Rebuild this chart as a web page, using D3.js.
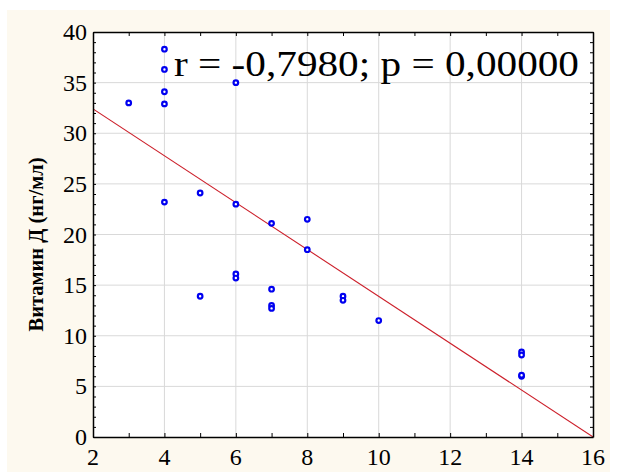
<!DOCTYPE html>
<html><head><meta charset="utf-8">
<script src="https://cdn.jsdelivr.net/npm/d3@7/dist/d3.min.js"></script>
<style>body{margin:0;background:#fff;}svg{display:block;}</style>
</head><body>
<svg id="c" width="621" height="472"></svg>
<script>
const xValues = [3,4,4,4,4,4,5,5,6,6,6,6,7,7,7,7,8,8,9,9,10,14,14,14,14];
const yValues = [33.0,38.3,36.3,34.1,32.9,23.2,24.1,13.9,35.0,23.0,16.1,15.7,21.1,14.6,13.0,12.7,21.5,18.5,13.9,13.5,11.5,8.4,8.1,6.0,6.1];
const xTicks = [2,4,6,8,10,12,14,16];
const yTicks = [0,5,10,15,20,25,30,35,40];
const fitIntercept = 37.03;
const fitSlope = -2.314;
const yTitle = "Витамин Д (нг/мл)";
const statText = "r = -0,7980; p = 0,00000";

const svg = d3.select("#c");
svg.append("rect").attr("x",7).attr("y",10).attr("width",603).attr("height",462).attr("fill","#fdf9ef");
const L=93,R=593,T=32,B=437;
const x = d3.scaleLinear().domain([2,16]).range([L,R]);
const y = d3.scaleLinear().domain([0,40]).range([B,T]);
svg.append("rect").attr("x",L).attr("y",T).attr("width",R-L).attr("height",B-T).attr("fill","#fff");
// grid
svg.append("g").selectAll("line").data(xTicks.slice(1,-1)).join("line")
  .attr("x1",d=>x(d)).attr("x2",d=>x(d)).attr("y1",T).attr("y2",B).attr("stroke","#d9d9d9").attr("stroke-width",1);
svg.append("g").selectAll("line").data(yTicks.slice(1,-1)).join("line")
  .attr("y1",d=>y(d)).attr("y2",d=>y(d)).attr("x1",L).attr("x2",R).attr("stroke","#d9d9d9").attr("stroke-width",1);
svg.append("clipPath").attr("id","pc").append("rect").attr("x",L).attr("y",T).attr("width",R-L).attr("height",B-T);
// fit line
svg.append("line").attr("clip-path","url(#pc)")
  .attr("x1",x(2)).attr("y1",y(fitIntercept+fitSlope*2))
  .attr("x2",x(16)).attr("y2",y(fitIntercept+fitSlope*16))
  .attr("stroke","#cc1f2a").attr("stroke-width",1.1);
// points
svg.append("g").selectAll("circle").data(xValues.map((v,i)=>[v,yValues[i]])).join("circle")
  .attr("cx",d=>x(d[0])).attr("cy",d=>y(d[1])).attr("r",2.3)
  .attr("fill","#fff").attr("stroke","#0000f0").attr("stroke-width",2.2);
// axes
const minorX = d3.range(2,16.01,1), minorY = d3.range(0,40.01,1);
const axB = svg.append("g").attr("transform",`translate(0,${B})`)
  .call(d3.axisBottom(x).tickValues(minorX).tickSizeInner(-4).tickSizeOuter(0).tickFormat(""));
const axT = svg.append("g").attr("transform",`translate(0,${T})`)
  .call(d3.axisTop(x).tickValues(minorX).tickSizeInner(-4).tickSizeOuter(0).tickFormat(""));
const axL = svg.append("g").attr("transform",`translate(${L},0)`)
  .call(d3.axisLeft(y).tickValues(minorY).tickSizeInner(-3).tickSizeOuter(0).tickFormat(""));
const axR = svg.append("g").attr("transform",`translate(${R},0)`)
  .call(d3.axisRight(y).tickValues(minorY).tickSizeInner(-3).tickSizeOuter(0).tickFormat(""));
[axB,axT,axL,axR].forEach(a=>{a.selectAll("path").attr("stroke","#000").attr("stroke-width",1.5);a.selectAll("line").attr("stroke","#000");});
// tick labels
svg.append("g").selectAll("text").data(xTicks).join("text")
  .attr("x",d=>x(d)).attr("y",B+28).attr("text-anchor","middle")
  .attr("font-family","Liberation Serif").attr("font-size",24).text(d=>d);
svg.append("g").selectAll("text").data(yTicks).join("text")
  .attr("x",L-6).attr("y",d=>y(d)+8).attr("text-anchor","end")
  .attr("font-family","Liberation Serif").attr("font-size",24).text(d=>d);
svg.append("text").attr("transform",`translate(43,${(T+B)/2+10}) rotate(-90)`).attr("text-anchor","middle")
  .attr("font-family","Liberation Serif").attr("font-weight","bold").attr("font-size",20.5).text(yTitle);
svg.append("text").attr("x",174).attr("y",76).attr("font-family","Liberation Serif").attr("font-size",36)
  .attr("textLength",405).attr("lengthAdjust","spacingAndGlyphs").text(statText);
</script>
</body></html>
